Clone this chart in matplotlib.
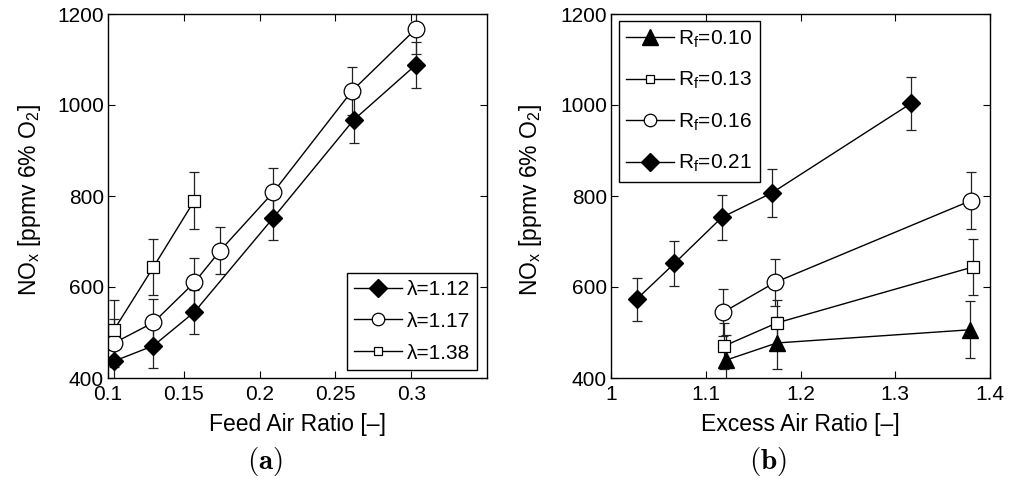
import matplotlib
matplotlib.use("Agg")
import matplotlib.pyplot as plt
from matplotlib.lines import Line2D

plt.rcParams['font.family'] = ['Liberation Sans', 'DejaVu Sans']
plt.rcParams['mathtext.fontset'] = 'custom'
plt.rcParams['mathtext.rm'] = 'Liberation Sans'
plt.rcParams['mathtext.it'] = 'Liberation Sans:italic'
plt.rcParams['mathtext.bf'] = 'Liberation Sans:bold'

# ---- Panel (a): NOx vs feed air ratio ----
a_labels = ['λ=1.12', 'λ=1.17', 'λ=1.38']
a_x_112 = [0.104, 0.130, 0.157, 0.209, 0.262, 0.303]
a_y_112 = [437, 471, 545, 752, 967, 1088]
a_e_112 = [45, 50, 49, 49, 51, 50]
a_x_117 = [0.104, 0.130, 0.157, 0.174, 0.209, 0.261, 0.303]
a_y_117 = [477, 522, 610, 680, 808, 1031, 1167]
a_e_117 = [52, 51, 53, 51, 53, 52, 55]
a_x_138 = [0.104, 0.130, 0.157]
a_y_138 = [506, 644, 790]
a_e_138 = [65, 62, 62]

# ---- Panel (b): NOx vs excess air ratio ----
b_labels = ['R$_\\mathregular{f}$=0.10', 'R$_\\mathregular{f}$=0.13',
            'R$_\\mathregular{f}$=0.16', 'R$_\\mathregular{f}$=0.21']
b_x_10 = [1.121, 1.175, 1.379]
b_y_10 = [439, 477, 506]
b_e_10 = [55, 58, 63]
b_x_13 = [1.119, 1.175, 1.382]
b_y_13 = [470, 521, 644]
b_e_13 = [50, 51, 62]
b_x_16 = [1.118, 1.173, 1.380]
b_y_16 = [544, 610, 790]
b_e_16 = [51, 52, 62]
b_x_21 = [1.027, 1.067, 1.117, 1.170, 1.317]
b_y_21 = [573, 652, 753, 807, 1004]
b_e_21 = [47, 49, 49, 53, 58]

W, H = 1011, 478
fig = plt.figure(figsize=(W / 100, H / 100), dpi=100)

def px_axes(l, r, t, b):
    return fig.add_axes([l / W, 1 - b / H, (r - l) / W, (b - t) / H])

ax1 = px_axes(108, 487, 14, 378)
ax2 = px_axes(611, 990, 14, 378)

styles = {
    'diamond': dict(marker='D', ms=9, mfc='black', mec='black'),
    'circle': dict(marker='o', ms=12, mfc='white', mec='black', mew=0.9),
    'square': dict(marker='s', ms=8, mfc='white', mec='black', mew=0.9),
    'triangle': dict(marker='^', ms=11, mfc='black', mec='black'),
}
leg_ms = {'diamond': 9, 'circle': 9, 'square': 6, 'triangle': 11}

def series(ax, x, y, e, style, label):
    ax.errorbar(x, y, yerr=e, color='black', lw=1.0, elinewidth=0.9,
                ecolor='#222222', capsize=3.5, capthick=0.9, **styles[style])
    st = dict(styles[style])
    st['ms'] = leg_ms[style]
    return Line2D([], [], color='black', lw=1.0, label=label, **st)

h1 = [series(ax1, a_x_112, a_y_112, a_e_112, 'diamond', a_labels[0]),
      series(ax1, a_x_117, a_y_117, a_e_117, 'circle', a_labels[1]),
      series(ax1, a_x_138, a_y_138, a_e_138, 'square', a_labels[2])]

h2 = [series(ax2, b_x_10, b_y_10, b_e_10, 'triangle', b_labels[0]),
      series(ax2, b_x_13, b_y_13, b_e_13, 'square', b_labels[1]),
      series(ax2, b_x_16, b_y_16, b_e_16, 'circle', b_labels[2]),
      series(ax2, b_x_21, b_y_21, b_e_21, 'diamond', b_labels[3])]

ax1.set_xlim(0.1, 0.35)
ax1.set_xticks([0.1, 0.15, 0.2, 0.25, 0.3])
ax1.set_xticklabels(['0.1', '0.15', '0.2', '0.25', '0.3'])
ax2.set_xlim(1, 1.4)
ax2.set_xticks([1, 1.1, 1.2, 1.3, 1.4])
ax2.set_xticklabels(['1', '1.1', '1.2', '1.3', '1.4'])

for ax, xl in ((ax1, 'Feed Air Ratio [–]'), (ax2, 'Excess Air Ratio [–]')):
    ax.set_ylim(400, 1200)
    ax.set_yticks([400, 600, 800, 1000, 1200])
    ax.tick_params(direction='in', top=True, right=True, labelsize=15,
                   length=5, width=0.8, pad=3)
    ax.tick_params(axis='x', pad=5)
    for s in ax.spines.values():
        s.set_linewidth(1.0)
    ax.set_xlabel(xl, fontsize=16.5)
    ax.xaxis.set_label_coords(0.5, -0.096)
    ax.set_ylabel('NO$_\\mathregular{x}$ [ppmv 6% O$_\\mathregular{2}$]', fontsize=16.5)
ax1.yaxis.set_label_coords(-0.172, 0.49)
ax2.yaxis.set_label_coords(-0.178, 0.49)

leg_kw = dict(fontsize=15, frameon=True, fancybox=False, edgecolor='black',
              framealpha=1, handlelength=2.3, handletextpad=0.2,
              borderpad=0.35, borderaxespad=0.0)
l1 = ax1.legend(handles=h1, loc='lower right', bbox_to_anchor=(0.9736, 0.022),
                labelspacing=0.62, **leg_kw)
l2 = ax2.legend(handles=h2, loc='upper left', bbox_to_anchor=(0.021, 0.98),
                labelspacing=0.97, **leg_kw)
for l in (l1, l2):
    l.get_frame().set_linewidth(1.0)

fig.text(265 / W, 1 - 461 / H, r'$\mathbf{(a)}$', math_fontfamily='cm',
         fontsize=21, ha='center', va='center')
fig.text(768 / W, 1 - 461 / H, r'$\mathbf{(b)}$', math_fontfamily='cm',
         fontsize=21, ha='center', va='center')

fig.savefig('out.png', dpi=100)
